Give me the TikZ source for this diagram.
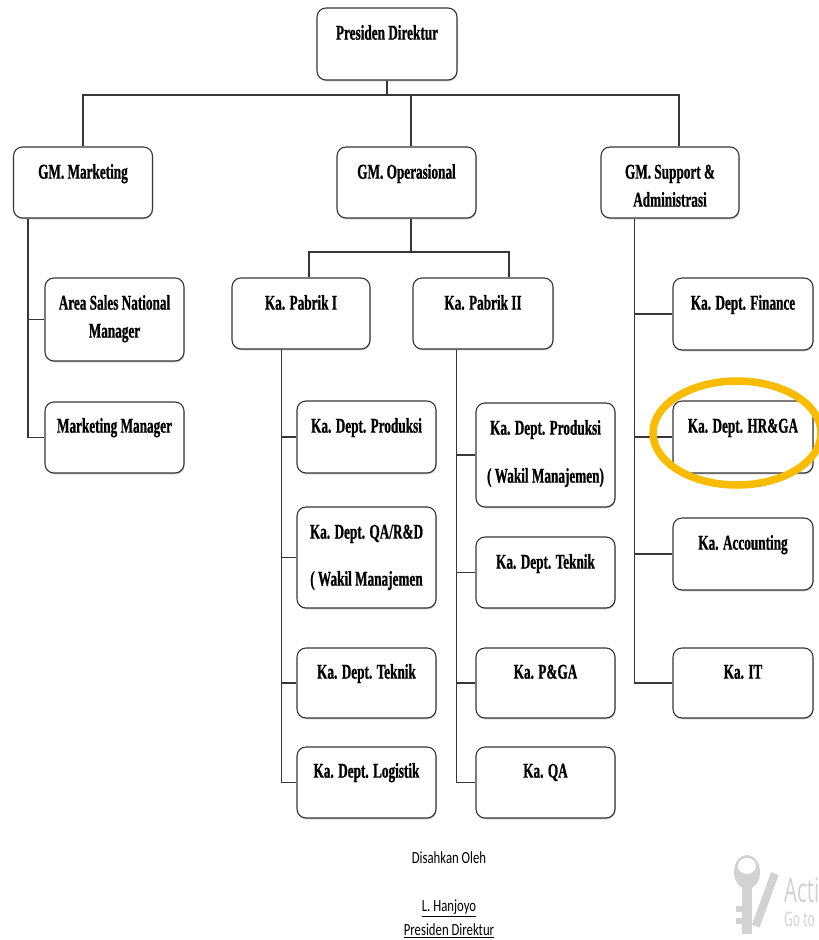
\documentclass[tikz,border=0pt]{standalone}
\usepackage{fontspec}
\setmainfont{Liberation Serif}[FakeStretch=0.63, BoldFeatures={FakeBold=0.8}]
\newfontfamily\signfont{Carlito}[FakeStretch=0.75]
\newfontfamily\wmfont{Open Sans}[FakeStretch=0.6]
\usetikzlibrary{shadows,calc}
\definecolor{hl}{RGB}{250,188,0}
\definecolor{ln}{RGB}{55,55,55}
\definecolor{wmgray}{RGB}{210,210,210}
\newcommand\tstr{\rule{0pt}{15pt}}
\begin{document}
\begin{tikzpicture}[x=1pt,y=-1pt,
  box/.style={draw=ln, line width=1.1pt, rounded corners=9pt, fill=white,
    minimum width=139pt, minimum height=71pt, inner sep=0pt,
    drop shadow={shadow xshift=0.6pt, shadow yshift=-1.3pt, fill=black!45}},
  txt/.style={anchor=north, inner sep=0pt, align=center,
    font=\fontsize{21pt}{28pt}\selectfont\bfseries},
  conn/.style={draw=ln, line width=1.3pt},
  sign/.style={inner sep=0pt, font=\signfont\fontsize{17pt}{20pt}\selectfont}]
\useasboundingbox (0,0) rectangle (819,940);
\fill[white] (0,0) rectangle (819,940);

% ---- boxes ----
\node[box, minimum width=140pt, minimum height=72pt] (pd) at (387,44) {};
\node[box] (gmm) at (83,182.5) {};
\node[box] (gmo) at (406.5,182.5) {};
\node[box, minimum width=138pt] (gms) at (670,182.5) {};

\node[box, minimum height=83pt] (as) at (114.5,319.5) {};
\node[box] (mm) at (114.5,437.5) {};

\node[box, minimum width=138pt] (p1) at (301,313.5) {};
\node[box, minimum width=140pt] (p2) at (483,313.5) {};

\node[box, minimum height=72pt] (a1) at (366.5,437) {};
\node[box, minimum height=101pt] (a2) at (366.5,557.5) {};
\node[box, minimum height=70pt] (a3) at (366.5,683) {};
\node[box] (a4) at (366.5,782.5) {};

\node[box, minimum height=104pt] (b1) at (545.5,455) {};
\node[box] (b2) at (545.5,572.5) {};
\node[box, minimum height=70pt] (b3) at (545.5,683) {};
\node[box] (b4) at (545.5,782.5) {};

\node[box, minimum width=140pt, minimum height=72pt] (c1) at (743,314) {};
\node[box, minimum width=140pt, minimum height=72pt] (c2) at (743,437) {};
\node[box, minimum width=140pt, minimum height=72pt] (c3) at (743,554) {};
\node[box, minimum width=140pt, minimum height=70pt] (c4) at (743,683) {};

% ---- texts ----
\node[txt] (pdT) at ([yshift=-17pt]pd.north) {\tstr Presiden Direktur};
\node[txt] (gmmT) at ([yshift=-17pt]gmm.north) {\tstr GM. Marketing};
\node[txt] (gmoT) at ([yshift=-17pt]gmo.north) {\tstr GM. Operasional};
\node[txt] (gmsT) at ([yshift=-17pt]gms.north) {\tstr GM. Support \&\\Administrasi};
\node[txt] (asT) at ([yshift=-17pt]as.north) {\tstr Area Sales National\\Manager};
\node[txt] (mmT) at ([yshift=-16pt]mm.north) {\tstr Marketing Manager};
\node[txt] (p1T) at ([yshift=-17pt]p1.north) {\tstr Ka. Pabrik I};
\node[txt] (p2T) at ([yshift=-17pt]p2.north) {\tstr Ka. Pabrik II};
\node[txt] (a1T) at ([yshift=-17pt]a1.north) {\tstr Ka. Dept. Produksi};
\node[txt] (a2T) at ([yshift=-17pt]a2.north) {\tstr Ka. Dept. QA/R\&D\\[19pt]( Wakil Manajemen};
\node[txt] (a3T) at ([yshift=-16pt]a3.north) {\tstr Ka. Dept. Teknik};
\node[txt] (a4T) at ([yshift=-16pt]a4.north) {\tstr Ka. Dept. Logistik};
\node[txt] (b1T) at ([yshift=-17pt]b1.north) {\tstr Ka. Dept. Produksi\\[20pt]( Wakil Manajemen)};
\node[txt] (b2T) at ([yshift=-17pt]b2.north) {\tstr Ka. Dept. Teknik};
\node[txt] (b3T) at ([yshift=-16pt]b3.north) {\tstr Ka. P\&GA};
\node[txt] (b4T) at ([yshift=-16pt]b4.north) {\tstr Ka. QA};
\node[txt] (c1T) at ([yshift=-17pt]c1.north) {\tstr Ka. Dept. Finance};
\node[txt] (c2T) at ([yshift=-17pt]c2.north) {\tstr Ka. Dept. HR\&GA};
\node[txt] (c3T) at ([yshift=-17pt]c3.north) {\tstr Ka. Accounting};
\node[txt] (c4T) at ([yshift=-16pt]c4.north) {\tstr Ka. IT};

% ---- connectors ----
\coordinate (bus) at (387,95);
\draw[conn] (pd.south) -- (bus);
\draw[conn] (gmm.north) |- (bus);
\draw[conn] ([xshift=4.5pt]gmo.north) |- (bus);
\draw[conn] ([xshift=9pt]gms.north) |- (bus);

\draw[conn] ([xshift=15pt]gmm.south west) |- (as.west);
\draw[conn] ([xshift=15pt]gmm.south west) |- (mm.west);

\coordinate (bus2) at (411,252);
\draw[conn] ([xshift=4.5pt]gmo.south) -- (bus2);
\draw[conn] ([xshift=8pt]p1.north) |- (bus2);
\draw[conn] ([xshift=26pt]p2.north) |- (bus2);

\foreach \c in {a1,a2,a3,a4}
  \draw[conn] ([xshift=50pt]p1.south west) |- (\c.west);
\foreach \c in {b1,b2,b3,b4}
  \draw[conn] ([xshift=44pt]p2.south west) |- (\c.west);
\foreach \c in {c1,c2,c3,c4}
  \draw[conn] ([xshift=34pt]gms.south west) |- (\c.west);

% ---- highlight ----
\draw[hl, line width=7.5pt] (737,433) ellipse (84pt and 52pt);

% ---- signature ----
\node[sign] (dis) at (449,858) {Disahkan Oleh};
\node[sign] (nm) at (449,908) {\underline{L. Hanjoyo}};
\node[sign] (ttl) at (449,931) {\underline{Presiden Direktur}};

% ---- watermark ----
\fill[wmgray, rotate around={-20:(766,898)}] (762,872) rectangle (770,928);
\fill[wmgray] (747,872) ellipse (13pt and 17pt);
\fill[white] (747,866) ellipse (9pt and 8pt);
\fill[wmgray] (742,886) rectangle (752,934);
\fill[wmgray] (736,906) rectangle (742,912);
\fill[wmgray] (736,918) rectangle (742,924);
\node[anchor=base west, inner sep=0pt, text=wmgray,
  font=\wmfont\fontsize{34pt}{34pt}\selectfont] (act) at (784,902) {Activ};
\node[anchor=base west, inner sep=0pt, text=wmgray,
  font=\wmfont\fontsize{20pt}{20pt}\selectfont] (goto) at (784,926) {Go to};
\end{tikzpicture}
\end{document}
